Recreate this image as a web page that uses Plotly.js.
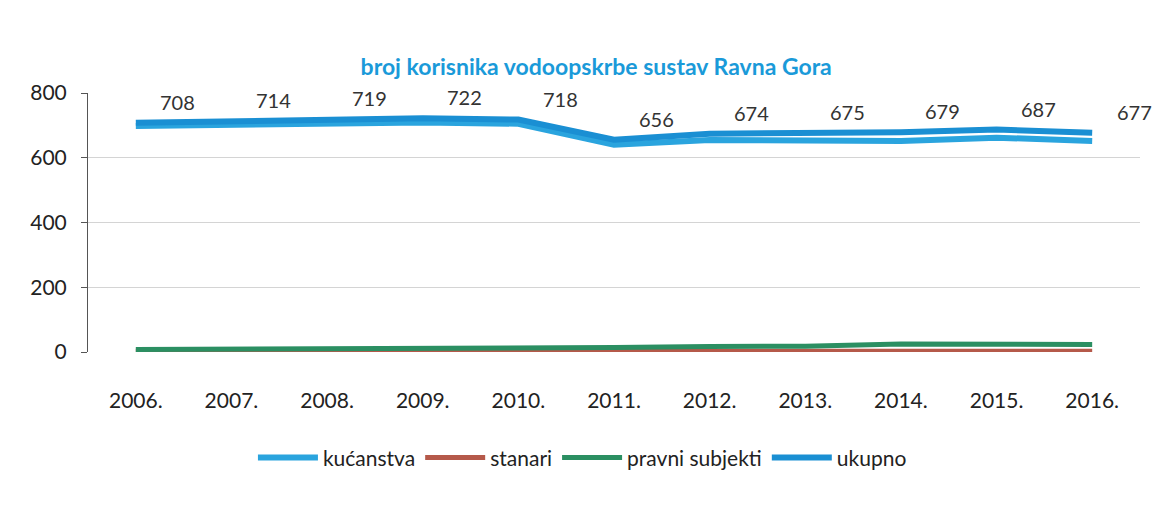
<!DOCTYPE html>
<html>
<head>
<meta charset="utf-8">
<script src="https://cdn.plot.ly/plotly-3.0.1.min.js"></script>
<style>html,body{margin:0;padding:0;background:#fff;}#chart{width:1169px;height:520px;}</style>
</head>
<body>
<div id="chart"></div>
<script>
const years = ["2006.","2007.","2008.","2009.","2010.","2011.","2012.","2013.","2014.","2015.","2016."];
const kucanstva = [698,703,707,709,705,640,655,655,652,662,652];
const stanari = [2,2,2,2,2,2,2,2,2,2,2];
const pravniSubjekti = [8,9,10,11,11,14,17,18,25,23,23];
const ukupno = [708,714,719,722,718,656,674,675,679,687,677];
const yTicks = [0,200,400,600,800];

const font = "Lato, 'Open Sans', sans-serif";
const traces = [
  {x: years, y: kucanstva, name: "kućanstva", mode: "lines", line: {color: "#2aa4de", width: 6}},
  {x: years, y: stanari, name: "stanari", mode: "lines", line: {color: "#b5594a", width: 5}},
  {x: years, y: pravniSubjekti, name: "pravni subjekti", mode: "lines", line: {color: "#2b8f62", width: 5}},
  {x: years, y: ukupno, name: "ukupno", mode: "lines", line: {color: "#1a8fd3", width: 6}}
];
const annotations = years.map((yr, i) => ({
  x: i, y: ukupno[i], xref: "x", yref: "y", text: String(ukupno[i]),
  showarrow: false, xshift: 42, yshift: 21,
  font: {size: 20, color: "#333", family: font}
}));
const layout = {
  width: 1169, height: 520,
  margin: {l: 88, r: 29, t: 93, b: 168},
  paper_bgcolor: "#fff", plot_bgcolor: "#fff",
  font: {family: font, size: 21, color: "#222"},
  title: {text: "<b>broj korisnika vodoopskrbe sustav Ravna Gora</b>", font: {size: 23, color: "#1a9ad9", family: font}, x: 0.51, xanchor: "center", y: 0.872, yanchor: "middle"},
  xaxis: {type: "category", range: [-0.5, years.length - 0.5], autorange: false, showgrid: false, showline: false, ticks: "", tickfont: {size: 21, color: "#222"}, ticklabelstandoff: 34, zeroline: false},
  yaxis: {range: [0, 800], tickvals: yTicks, showgrid: true, gridcolor: "#d4d4d4", gridwidth: 1, showline: true, linecolor: "#555", ticks: "outside", ticklen: 6, tickcolor: "#555", tickfont: {size: 21, color: "#222"}, zeroline: false, ticklabelstandoff: 10},
  annotations: annotations,
  showlegend: true,
  legend: {orientation: "h", x: 0.47, xanchor: "center", y: -0.33, yanchor: "top", font: {size: 21, color: "#222"}, itemwidth: 60}
};
Plotly.newPlot("chart", traces, layout, {displayModeBar: false, staticPlot: true});
</script>
</body>
</html>
